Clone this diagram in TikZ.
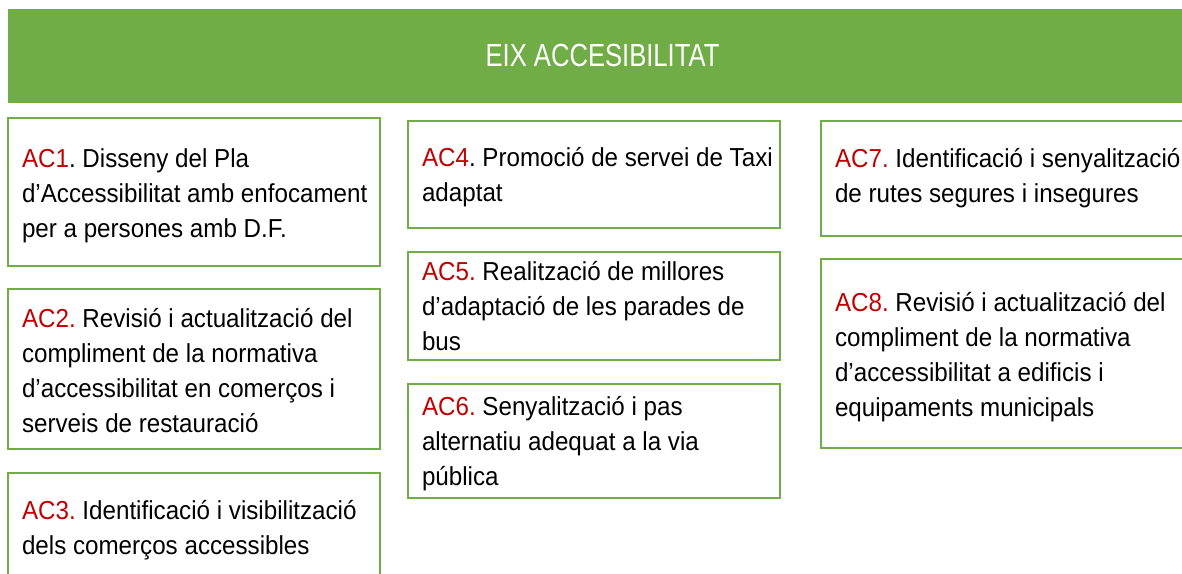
\documentclass[tikz,border=0pt]{standalone}
\usepackage{fontspec}
\setmainfont[FakeStretch=0.93]{Liberation Sans}
\newfontfamily\hdfont[FakeStretch=0.8]{Liberation Sans}
\definecolor{eixgreen}{HTML}{70AD47}
\definecolor{acred}{HTML}{C00000}
\frenchspacing
\newcommand\boxlines[1]{\parbox[t]{330pt}{\raggedright\frenchspacing #1}}
\newcommand\ac[1]{\textcolor{acred}{#1}}
\tikzset{
  box/.style={draw=eixgreen, line width=1.5pt, inner sep=0pt, outer sep=0pt,
    anchor=north west, minimum width=279pt},
  txt/.style={anchor=base west, inner sep=0pt, outer sep=0pt,
    font=\fontsize{19.5pt}{26.25pt}\selectfont},
  header/.style={fill=eixgreen, inner sep=0pt, outer sep=0pt, anchor=north west,
    minimum width=894pt, minimum height=70.5pt},
}
\begin{document}
\begin{tikzpicture}[x=0.75pt,y=-0.75pt]
\useasboundingbox (0,0) rectangle (1182,574);
\node[header] (hdr) at (8,9) {};
\node[anchor=base, inner sep=0pt, text=white, font=\hdfont\fontsize{24pt}{28pt}\selectfont] (title) at (602.5,67) {EIX ACCESIBILITAT};

\node[box, minimum height=111pt] (b1) at (8,118) {};
\node[box, minimum height=120pt] (b2) at (8,289) {};
\node[box, minimum height=95.25pt] (b3) at (8,473) {};
\node[box, minimum height=80.25pt] (b4) at (408,121) {};
\node[box, minimum height=81pt] (b5) at (408,252) {};
\node[box, minimum height=85.5pt] (b6) at (408,384) {};
\node[box, minimum height=86.25pt, minimum width=284.25pt] (b7) at (821,121) {};
\node[box, minimum height=141.75pt, minimum width=284.25pt] (b8) at (821,259) {};

\node[txt] (t1) at (22,168) {\boxlines{\ac{AC1}. Disseny del Pla\\d’Accessibilitat amb enfocament\\per a persones amb D.F.}};
\node[txt] (t2) at (22,327) {\boxlines{\ac{AC2.} Revisió i actualització del\\compliment de la normativa\\d’accessibilitat en comerços i\\serveis de restauració}};
\node[txt] (t3) at (22,519) {\boxlines{\ac{AC3.} Identificació i visibilització\\dels comerços accessibles}};
\node[txt] (t4) at (422,167) {\boxlines{\ac{AC4}. Promoció de servei de Taxi\\adaptat}};
\node[txt] (t5) at (422,280) {\boxlines{\ac{AC5.} Realització de millores\\d’adaptació de les parades de\\bus}};
\node[txt] (t6) at (422,415) {\boxlines{\ac{AC6.} Senyalització i pas\\alternatiu adequat a la via\\pública}};
\node[txt] (t7) at (835,168) {\boxlines{\ac{AC7.} Identificació i senyalització\\de rutes segures i insegures}};
\node[txt] (t8) at (835,311) {\boxlines{\ac{AC8.} Revisió i actualització del\\compliment de la normativa\\d’accessibilitat a edificis i\\equipaments municipals}};
\end{tikzpicture}
\end{document}
